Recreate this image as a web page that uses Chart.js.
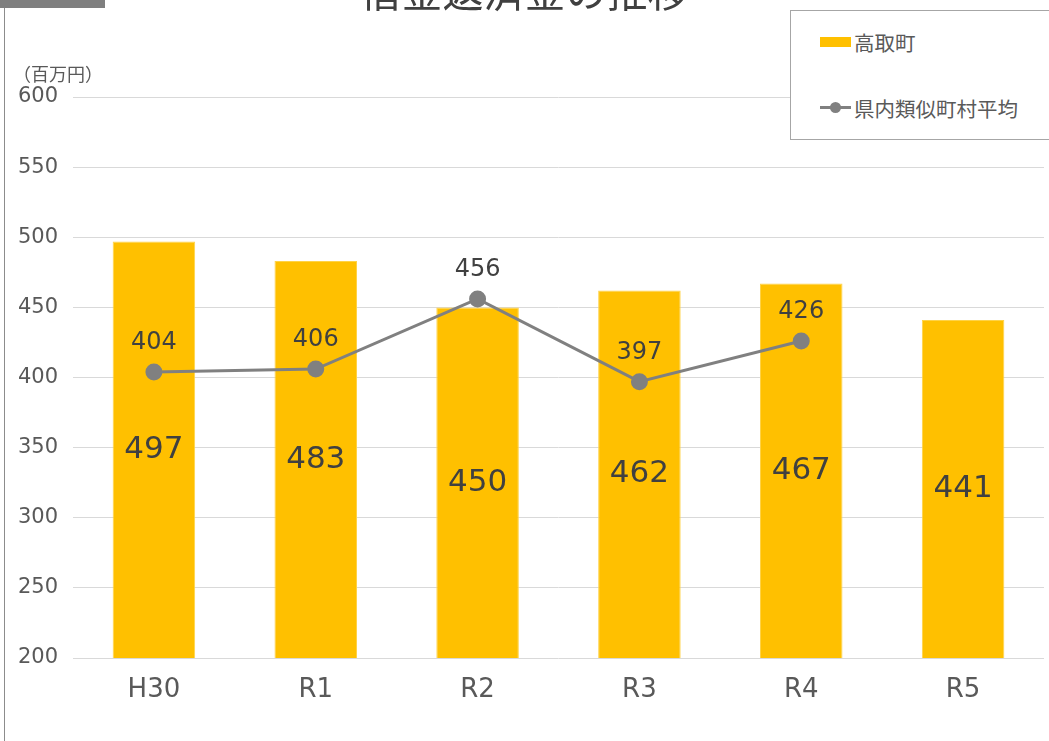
<!DOCTYPE html>
<html>
<head>
<meta charset="utf-8">
<script src="https://cdn.jsdelivr.net/npm/chart.js@4"></script>
<style>
  html, body { margin: 0; padding: 0; background: #fff; }
  #wrap { position: relative; width: 1049px; height: 741px; overflow: hidden; }
  #chart { position: absolute; left: 0; top: 0; }
  .topbar { position: absolute; left: 0; top: 0; width: 105px; height: 8px; background: #7f7f7f; }
  .frame { position: absolute; left: 4px; top: 8px; width: 1px; height: 733px; background: #8c8c8c; }
  .title { position: absolute; left: 0; width: 1049px; top: -31px; text-align: center;
           font: 41px/41px "Noto Sans CJK JP", sans-serif; color: #404040; }
  .unit { position: absolute; left: 13px; top: 60px; font: 18px "Noto Sans CJK JP", sans-serif; color: #595959; }
  #legend { position: absolute; left: 790px; top: 10px; width: 270px; height: 128px;
            border: 1px solid #a6a6a6; background: #fff; font: 20.5px "Noto Sans CJK JP", sans-serif; color: #595959; }
  .item { position: absolute; left: 29px; height: 24px; display: flex; align-items: center; }
  .sw { position: relative; width: 31px; height: 24px; margin-right: 3px; }
</style>
</head>
<body>
<div id="wrap">
  <canvas id="chart" width="1054" height="741"></canvas>
  <div class="topbar"></div>
  <div class="frame"></div>
  <div class="title">借金返済金の推移</div>
  <div class="unit">（百万円）</div>
  <div id="legend"></div>
</div>
<script>
// 年度
const years = ['H30', 'R1', 'R2', 'R3', 'R4', 'R5'];
// 高取町
const takatori = [497, 483, 450, 462, 467, 441];
// 県内類似町村平均（R5はなし）
const similarAvg = [404, 406, 456, 397, 426, null];
// 軸
const yMin = 200;
const yMax = 600;
const yStep = 50;

const barColor = '#FFC000';
const lineColor = '#808080';
const textColor = '#404040';
const fontFamily = '"DejaVu Sans", "Noto Sans CJK JP", sans-serif';

// データラベル描画
const valueLabels = {
    id: 'valueLabels',
    afterDatasetsDraw(chart) {
        const ctx = chart.ctx;
        const yScale = chart.scales.y;
        ctx.save();
        ctx.fillStyle = textColor;
        ctx.textAlign = 'center';
        ctx.textBaseline = 'middle';
        chart.data.datasets.forEach((ds, i) => {
            const meta = chart.getDatasetMeta(i);
            meta.data.forEach((el, j) => {
                const v = ds.data[j];
                if (v === null || v === undefined) return;
                if (ds.type === 'bar') {
                    ctx.font = '31px ' + fontFamily;
                    const top = yScale.getPixelForValue(v);
                    const base = yScale.getPixelForValue(yMin);
                    ctx.fillText(String(v), el.x, (top + base) / 2);
                } else {
                    ctx.font = '24px ' + fontFamily;
                    ctx.fillText(String(v), el.x, el.y - 29);
                }
            });
        });
        ctx.restore();
    }
};

const chart = new Chart(document.getElementById('chart').getContext('2d'), {
    data: {
        labels: years,
        datasets: [
            {
                type: 'line',
                label: '県内類似町村平均',
                data: similarAvg,
                borderColor: lineColor,
                backgroundColor: lineColor,
                borderWidth: 3,
                pointRadius: 7,
                pointHoverRadius: 7,
                spanGaps: false,
                order: 0
            },
            {
                type: 'bar',
                label: '高取町',
                data: takatori,
                backgroundColor: barColor,
                borderColor: '#FFD347',
                borderWidth: 1,
                categoryPercentage: 1.0,
                barPercentage: 0.51,
                order: 1
            }
        ]
    },
    options: {
        responsive: false,
        animation: false,
        layout: { padding: { left: 18, top: 97, right: 6, bottom: 0 } },
        plugins: {
            legend: { display: false },
            tooltip: { enabled: false }
        },
        scales: {
            x: {
                grid: { display: false },
                border: { display: false },
                ticks: { color: '#595959', font: { family: fontFamily, size: 26 }, padding: 9 },
                afterFit(scale) { scale.height = 83; }
            },
            y: {
                min: yMin,
                max: yMax,
                grid: { color: '#d9d9d9', lineWidth: 1, drawTicks: false },
                border: { display: false },
                ticks: {
                    stepSize: yStep,
                    color: '#595959',
                    crossAlign: 'far',
                    padding: 0,
                    font: { family: fontFamily, size: 21 }
                },
                afterFit(scale) { scale.width = 55; }
            }
        }
    },
    plugins: [valueLabels]
});

// 凡例（データセットから作る）
const legend = document.getElementById('legend');
const legendOrder = [1, 0];
legendOrder.forEach((idx, k) => {
    const ds = chart.data.datasets[idx];
    const item = document.createElement('div');
    item.className = 'item';
    item.style.top = (k === 0 ? 19 : 85) + 'px';
    const sw = document.createElement('div');
    sw.className = 'sw';
    if (ds.type === 'bar') {
        sw.innerHTML = '<div style="position:absolute;left:0;top:7px;width:31px;height:10px;background:' + ds.backgroundColor + '"></div>';
    } else {
        sw.innerHTML = '<div style="position:absolute;left:0;top:10px;width:31px;height:3px;background:' + ds.borderColor + '"></div>' +
            '<div style="position:absolute;left:10px;top:6px;width:11px;height:11px;border-radius:50%;background:' + ds.borderColor + '"></div>';
    }
    const txt = document.createElement('span');
    txt.textContent = ds.label;
    item.appendChild(sw);
    item.appendChild(txt);
    legend.appendChild(item);
});
</script>
</body>
</html>
